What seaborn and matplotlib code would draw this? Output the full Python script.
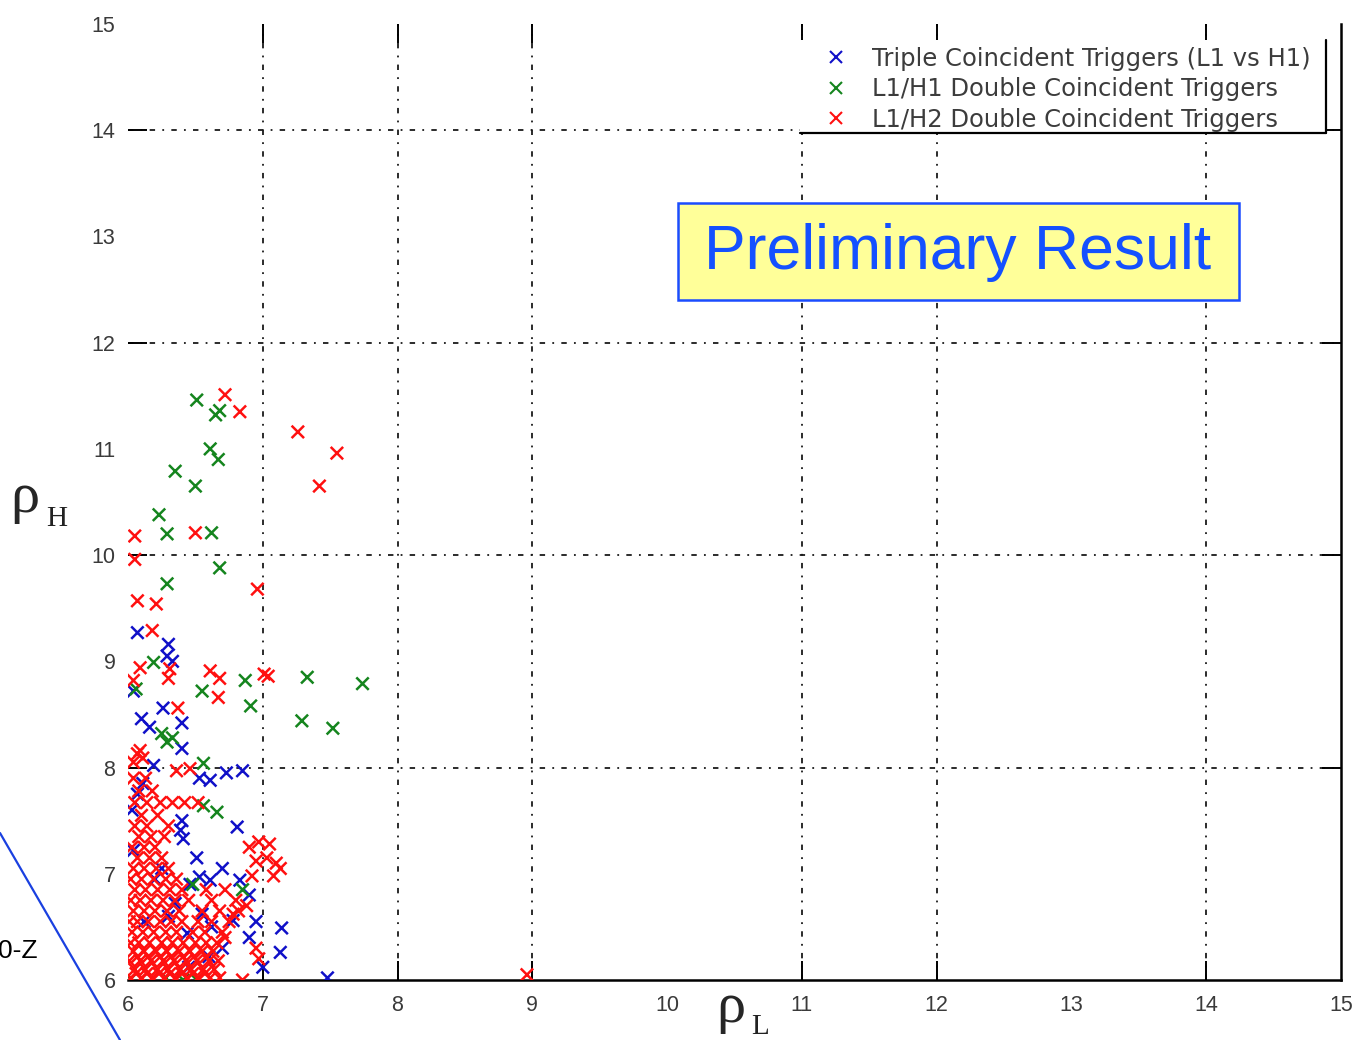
import matplotlib
matplotlib.use("Agg")
import matplotlib.pyplot as plt
import seaborn as sns
import pandas as pd
from matplotlib.lines import Line2D
from matplotlib.patches import Rectangle

# ---------------- data ----------------
series_names = ["Triple Coincident Triggers (L1 vs H1)",
                "L1/H1 Double Coincident Triggers",
                "L1/H2 Double Coincident Triggers"]
series_colors = ["#1010c8", "#15851e", "#ff1010"]

x_ticks = [6, 7, 8, 9, 10, 11, 12, 13, 14, 15]
y_ticks = [6, 7, 8, 9, 10, 11, 12, 13, 14, 15]
x_grid = [7, 8, 9, 11, 12, 14]
y_grid = [8, 10, 12, 14]

triple_points = [
    (6.07, 9.27), (6.30, 9.16), (6.29, 9.05), (6.33, 9.00), (6.04, 8.72),
    (6.26, 8.56), (6.40, 8.42), (6.10, 8.46), (6.16, 8.38), (6.40, 8.18),
    (6.19, 8.02), (6.53, 7.90), (6.61, 7.88), (6.73, 7.95), (6.85, 7.97),
    (6.11, 7.85), (6.07, 7.75), (6.03, 7.60), (6.40, 7.50), (6.04, 7.22),
    (6.39, 7.41), (6.41, 7.33), (6.81, 7.44), (6.51, 7.15), (6.46, 6.90),
    (6.53, 6.97), (6.61, 6.94), (6.83, 6.94), (6.44, 6.44), (6.78, 6.56),
    (7.14, 6.49), (7.13, 6.26), (7.48, 6.02), (6.30, 6.60), (6.35, 6.72),
    (6.55, 6.62), (6.62, 6.50), (6.70, 6.30), (6.90, 6.40), (6.95, 6.55),
    (7.00, 6.12), (6.60, 6.22), (6.45, 6.12), (6.70, 7.05), (6.90, 6.80),
    (6.25, 7.05), (6.20, 6.95), (6.12, 6.55),
]

l1h1_points = [
    (6.51, 11.46), (6.65, 11.32), (6.68, 11.36), (6.61, 11.00), (6.67, 10.90),
    (6.35, 10.79), (6.50, 10.65), (6.23, 10.38), (6.29, 10.20), (6.62, 10.21),
    (6.68, 9.88), (6.29, 9.73), (6.19, 8.99), (6.06, 8.74), (6.55, 8.72),
    (6.87, 8.82), (6.91, 8.58), (7.33, 8.85), (7.74, 8.79), (7.29, 8.44),
    (7.52, 8.37), (6.25, 8.32), (6.29, 8.24), (6.33, 8.28), (6.56, 8.04),
    (6.56, 7.64), (6.66, 7.58), (6.85, 6.85), (6.41, 6.00), (6.51, 6.00),
    (6.28, 6.02), (6.48, 6.90), (6.02, 6.01),
]

l1h2_points = [
    (6.72, 11.51), (6.83, 11.35), (7.26, 11.16), (7.55, 10.96), (7.42, 10.65),
    (6.05, 10.18), (6.50, 10.21), (6.05, 9.96), (6.96, 9.68), (6.07, 9.57),
    (6.21, 9.54), (6.18, 9.29), (6.09, 8.94), (6.31, 8.93), (6.30, 8.84),
    (6.04, 8.82), (6.61, 8.91), (6.68, 8.84), (6.67, 8.66), (7.01, 8.88),
    (7.04, 8.86), (6.37, 8.56), (6.07, 8.13), (6.11, 8.09), (6.04, 8.05),
    (6.09, 8.16), (6.36, 7.97), (6.46, 7.99), (8.96, 6.05),
    # dense cluster near the origin
    (6.02, 6.02), (6.10, 6.02), (6.18, 6.02), (6.27, 6.02), (6.35, 6.02),
    (6.44, 6.02), (6.52, 6.02), (6.61, 6.02), (6.68, 6.02),
    (6.05, 6.10), (6.13, 6.10), (6.22, 6.10), (6.30, 6.10), (6.39, 6.10),
    (6.47, 6.10), (6.56, 6.10), (6.64, 6.10),
    (6.01, 6.18), (6.09, 6.18), (6.17, 6.18), (6.26, 6.18), (6.34, 6.18),
    (6.43, 6.18), (6.51, 6.18), (6.60, 6.18), (6.67, 6.18),
    (6.04, 6.27), (6.12, 6.27), (6.21, 6.27), (6.29, 6.27), (6.38, 6.27),
    (6.46, 6.27), (6.55, 6.27), (6.63, 6.27),
    (6.02, 6.35), (6.08, 6.35), (6.16, 6.35), (6.25, 6.35), (6.33, 6.35),
    (6.41, 6.35), (6.50, 6.35), (6.58, 6.35), (6.66, 6.35),
    (6.06, 6.06), (6.14, 6.06), (6.23, 6.06), (6.31, 6.06), (6.40, 6.06),
    (6.48, 6.06), (6.57, 6.06), (6.07, 6.22), (6.15, 6.22), (6.24, 6.22),
    (6.32, 6.22), (6.41, 6.22), (6.49, 6.22), (6.58, 6.22),
    (6.03, 6.45), (6.11, 6.45), (6.19, 6.45), (6.28, 6.45), (6.36, 6.45),
    (6.48, 6.45), (6.57, 6.45), (6.70, 6.45),
    (6.01, 6.55), (6.07, 6.55), (6.15, 6.55), (6.24, 6.55), (6.32, 6.55),
    (6.40, 6.55), (6.52, 6.55), (6.62, 6.55), (6.75, 6.55),
    (6.04, 6.65), (6.12, 6.65), (6.20, 6.65), (6.29, 6.65), (6.38, 6.65),
    (6.55, 6.65), (6.68, 6.65), (6.82, 6.65),
    (6.02, 6.75), (6.09, 6.75), (6.17, 6.75), (6.26, 6.75), (6.35, 6.75),
    (6.45, 6.75), (6.62, 6.75), (6.80, 6.75),
    (6.05, 6.85), (6.13, 6.85), (6.22, 6.85), (6.31, 6.85), (6.40, 6.85),
    (6.58, 6.85), (6.72, 6.85),
    (6.02, 6.95), (6.10, 6.95), (6.19, 6.95), (6.28, 6.95), (6.36, 6.95),
    (6.04, 7.05), (6.12, 7.05), (6.21, 7.05), (6.30, 7.05),
    (6.07, 7.15), (6.16, 7.15), (6.25, 7.15),
    (6.03, 7.25), (6.12, 7.25), (6.20, 7.25),
    (6.08, 7.35), (6.17, 7.35), (6.27, 7.35),
    (6.05, 7.45), (6.14, 7.45), (6.30, 7.45),
    (6.10, 7.55), (6.22, 7.55),
    (6.05, 7.67), (6.14, 7.67), (6.24, 7.67), (6.33, 7.67), (6.42, 7.67),
    (6.52, 7.67),
    (6.08, 7.78), (6.18, 7.78), (6.04, 7.90), (6.13, 7.90),
    # group near rho_L = 7
    (6.90, 7.25), (6.97, 7.30), (7.05, 7.28), (6.95, 7.12), (7.03, 7.15),
    (7.10, 7.10), (7.13, 7.05), (7.08, 6.98), (6.92, 6.98),
    (6.85, 6.00), (6.95, 6.30), (6.97, 6.20), (6.88, 6.70), (6.78, 6.62),
    (6.72, 6.40),
]

frames = []
for name, pts in zip(series_names, [triple_points, l1h1_points, l1h2_points]):
    d = pd.DataFrame(pts, columns=["rho_L", "rho_H"])
    d["kind"] = name
    frames.append(d)
df = pd.concat(frames, ignore_index=True)

# ---------------- figure ----------------
sns.set_theme(style="white")
plt.rcParams["font.family"] = ["Liberation Sans", "DejaVu Sans"]

fig = plt.figure(figsize=(13.6, 10.4), dpi=100)
ax = fig.add_axes([128 / 1360, 60 / 1040, 1213 / 1360, 956 / 1040])

sns.scatterplot(data=df, x="rho_L", y="rho_H", hue="kind",
                palette=dict(zip(series_names, series_colors)),
                marker="x", s=80, linewidth=1.8, legend=False, ax=ax,
                zorder=3)

ax.set_xlim(6, 15)
ax.set_ylim(6, 15)
ax.set_xlabel("")
ax.set_ylabel("")

ax.xaxis.remove_overlapping_locs = False
ax.yaxis.remove_overlapping_locs = False
ax.set_xticks(x_ticks)
ax.set_yticks(y_ticks)
ax.set_xticks(x_grid, minor=True)
ax.set_yticks(y_grid, minor=True)
ax.tick_params(which="major", length=0, labelsize=15.5, labelcolor="#3a3a3a")
ax.tick_params(axis="x", which="major", pad=11)
ax.tick_params(axis="y", which="major", pad=9)
ax.tick_params(which="minor", direction="in", length=14, width=1.4,
               color="black", top=True, bottom=True, left=True, right=True)
ax.grid(False)
ax.grid(which="minor", color="#1a1a1a", linestyle=(0, (3, 4, 1, 4)),
        linewidth=1.3)

for s in ["left", "top"]:
    ax.spines[s].set_visible(False)
for s in ["bottom", "right"]:
    ax.spines[s].set_visible(True)
    ax.spines[s].set_color("black")
    ax.spines[s].set_linewidth(1.8)

# legend
handles = [Line2D([], [], linestyle="none", marker="x", markersize=9,
                  markeredgewidth=1.5, color=c) for c in series_colors]
leg = ax.legend(handles, series_names, loc="upper left",
                bbox_to_anchor=((817 - 128) / 1213, (980 - 47) / 956),
                frameon=False,
                prop={"family": ["DejaVu Sans"], "size": 17.5},
                labelcolor="#3c3c3c",
                borderpad=0, borderaxespad=0, labelspacing=0.26,
                handlelength=1.6, handletextpad=0.65)
legend_bg = Rectangle(((800 - 128) / 1213, (980 - 133) / 956),
                      (1326 - 800) / 1213, (133 - 40) / 956,
                      transform=ax.transAxes, facecolor="white",
                      edgecolor="none", zorder=4.5)
ax.add_patch(legend_bg)
leg.set_zorder(7)
ax.add_line(Line2D([(800 - 128) / 1213, (1326 - 128) / 1213],
                   [(980 - 133) / 956, (980 - 133) / 956],
                   transform=ax.transAxes, color="black", lw=1.6,
                   clip_on=False, zorder=6))
ax.add_line(Line2D([(1326 - 128) / 1213, (1326 - 128) / 1213],
                   [(980 - 133) / 956, (980 - 40) / 956],
                   transform=ax.transAxes, color="black", lw=1.6,
                   clip_on=False, zorder=6))

# "Preliminary Result" banner
fig.add_artist(Rectangle((678 / 1360, 1 - 300 / 1040), 561 / 1360, 97 / 1040,
                         transform=fig.transFigure, facecolor="#ffff99",
                         edgecolor="#1a4cff", linewidth=1.8, zorder=10))
fig.text(958 / 1360, 1 - 252 / 1040, "Preliminary Result", fontsize=45,
         color="#1450ff", ha="center", va="center", zorder=11,
         family=["Liberation Sans", "DejaVu Sans"])

# axis labels (rho_H, rho_L)
serif = ["Liberation Serif", "DejaVu Serif"]
fig.text(10 / 1360, 1 - 512 / 1040, "ρ", fontsize=42, family=serif,
         va="baseline", ha="left")
fig.text(46 / 1360, 1 - 526 / 1040, "H", fontsize=21, family=serif,
         va="baseline", ha="left", color="#222222")
fig.text(716 / 1360, 1 - 1022 / 1040, "ρ", fontsize=42, family=serif,
         va="baseline", ha="left")
fig.text(751 / 1360, 1 - 1034 / 1040, "L", fontsize=21, family=serif,
         va="baseline", ha="left", color="#222222")

# slide residue at the lower left
fig.add_artist(Line2D([0, 120 / 1360], [1 - 833 / 1040, 0],
                      transform=fig.transFigure, color="#1a40e0", lw=1.6))
fig.text(-2 / 1360, 1 - 958 / 1040, "0-Z", fontsize=19, va="baseline",
         ha="left", color="black")

fig.savefig("out.png", dpi=100)
